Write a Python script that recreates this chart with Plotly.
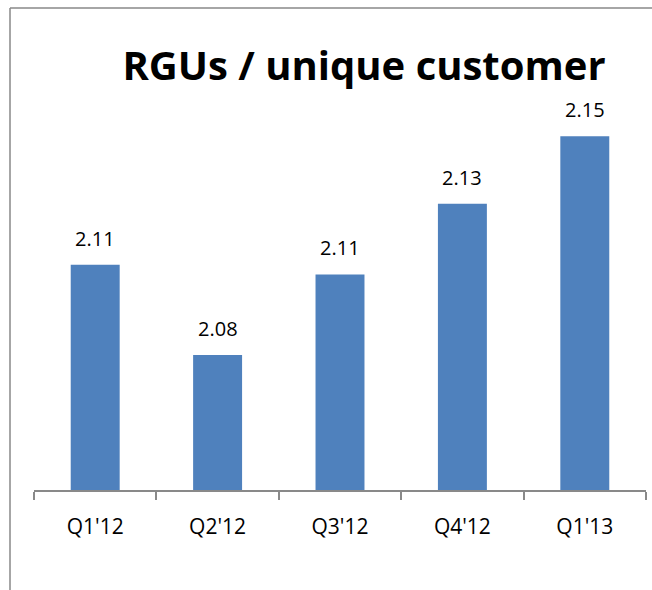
import plotly.graph_objects as go

categories = ["Q1'12", "Q2'12", "Q3'12", "Q4'12", "Q1'13"]
values = [2.110, 2.082, 2.107, 2.129, 2.150]
title_text = "RGUs / unique customer"

W, H = 652, 590
L, R, T, B = 34, 6, 104, 100
pw, ph = W - L - R, H - T - B

def px_x(p):
    return (p - L) / pw

def px_y(p):
    return (H - B - p) / ph

FONT = "Open Sans, Segoe UI, sans-serif"
BAR = "#4F81BD"
GRAY = "#898989"

fig = go.Figure(go.Bar(
    x=categories, y=values, marker=dict(color=BAR, line=dict(width=0)),
    width=0.4, hoverinfo="skip",
))

for c, v in zip(categories, values):
    fig.add_annotation(x=c, y=v, text=f"{v:.2f}", showarrow=False,
                       yanchor="bottom", yshift=11,
                       font=dict(family=FONT, size=20, color="#000000"))

fig.add_shape(type="line", xref="paper", yref="paper",
              x0=px_x(10), y0=px_y(8), x1=px_x(W + 10), y1=px_y(8),
              line=dict(color=GRAY, width=1.5))
fig.add_shape(type="line", xref="paper", yref="paper",
              x0=px_x(10), y0=px_y(8), x1=px_x(10), y1=px_y(H + 10),
              line=dict(color=GRAY, width=1.5))

fig.update_layout(
    width=W, height=H,
    margin=dict(l=L, r=R, t=T, b=B),
    paper_bgcolor="white", plot_bgcolor="white",
    showlegend=False,
    title=dict(text=f"<b>{title_text}</b>", xref="paper", x=px_x(364), xanchor="center",
               yref="container", y=1 - 66 / H, yanchor="middle",
               font=dict(family=FONT, size=40, color="black")),
    xaxis=dict(showline=True, linecolor=GRAY, linewidth=2, ticks="outside",
               tickson="boundaries", ticklen=8, tickcolor=GRAY, tickwidth=1.5,
               ticklabelstandoff=17,
               tickfont=dict(family=FONT, size=21, color="#000000"),
               showgrid=False, fixedrange=True),
    yaxis=dict(range=[2.04, 2.16], visible=False, showgrid=False, fixedrange=True),
)

fig.write_html("out.html", config={"displayModeBar": False},
               post_script="document.body.style.margin='0';document.body.style.overflow='hidden';")
